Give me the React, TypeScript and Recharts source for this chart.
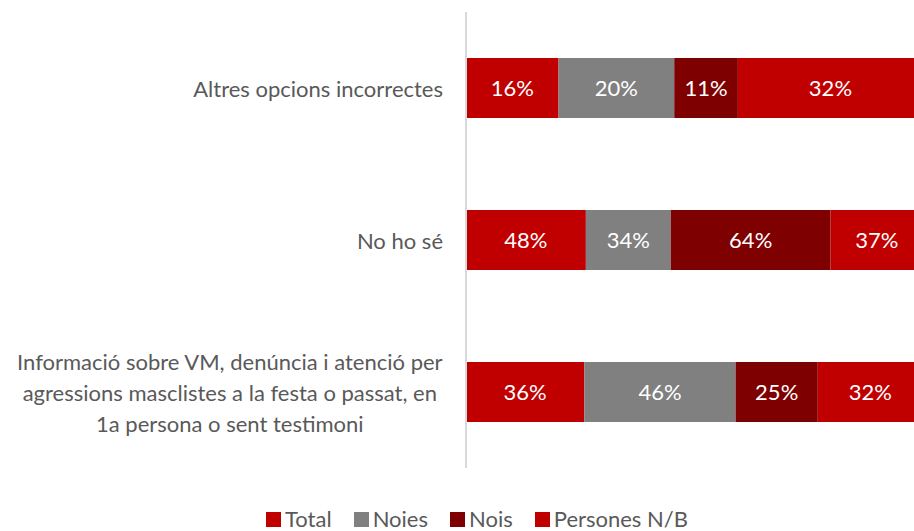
import React from 'react'
import { Bar, BarChart, LabelList, Legend, XAxis, YAxis } from 'recharts'

const categories = [
  'Altres opcions incorrectes',
  'No ho sé',
  'Informació sobre VM, denúncia i atenció per agressions masclistes a la festa o passat, en 1a persona o sent testimoni',
]
const total = [16, 48, 36]
const noies = [20, 34, 46]
const nois = [11, 64, 25]
const persones = [32, 37, 32]

const series = [
  { key: 'total', name: 'Total', color: '#C00000' },
  { key: 'noies', name: 'Noies', color: '#808080' },
  { key: 'nois', name: 'Nois', color: '#7F0000' },
  { key: 'persones', name: 'Persones N/B', color: '#C00000' },
]

const data = categories.map((label, i) => ({
  label,
  total: total[i],
  noies: noies[i],
  nois: nois[i],
  persones: persones[i],
}))

const FONT = 'Lato, "Open Sans", sans-serif'
const TEXT = '#595959'
const FONT_SIZE = 22

let ctx: CanvasRenderingContext2D | null = null
function measure(s: string): number {
  if (!ctx) ctx = document.createElement('canvas').getContext('2d')
  if (!ctx) return s.length * FONT_SIZE * 0.5
  ctx.font = `${FONT_SIZE}px Lato`
  return ctx.measureText(s).width
}

/** Greedy word wrap to a pixel width. */
function wrap(text: string, maxW: number): string[] {
  const words = text.split(' ')
  const lines: string[] = []
  let cur = ''
  for (const w of words) {
    const next = cur ? cur + ' ' + w : w
    if (cur && measure(next) > maxW) {
      lines.push(cur)
      cur = w
    } else {
      cur = next
    }
  }
  if (cur) lines.push(cur)
  return lines
}

function CategoryTick(props: any) {
  const { x, y, payload } = props
  const lines = wrap(String(payload.value), 440)
  const maxW = Math.max(...lines.map(measure))
  const right = x - 15
  const cx = right - maxW / 2
  const lh = 31
  const y0 = y - ((lines.length - 1) * lh) / 2
  return (
    <text
      x={cx}
      y={y0}
      textAnchor="middle"
      dominantBaseline="central"
      fill={TEXT}
      fontSize={FONT_SIZE}
      fontFamily={FONT}
    >
      {lines.map((l, i) => (
        <tspan key={i} x={cx} y={y0 + i * lh}>
          {l}
        </tspan>
      ))}
    </text>
  )
}

function LegendContent() {
  return (
    <div
      style={{
        display: 'flex',
        justifyContent: 'center',
        gap: 22,
        paddingLeft: 40,
        fontFamily: FONT,
        fontSize: FONT_SIZE,
        lineHeight: '22px',
        color: TEXT,
        height: 22,
        alignItems: 'center',
      }}
    >
      {series.map((s) => (
        <span key={s.key} style={{ display: 'flex', alignItems: 'center' }}>
          <span
            style={{
              width: 15,
              height: 15,
              background: s.color,
              display: 'inline-block',
              marginRight: 4,
            }}
          />
          {s.name}
        </span>
      ))}
    </div>
  )
}

export default function App() {
  return (
    <div
      style={{
        position: 'absolute',
        left: 0,
        top: 0,
        width: 914,
        height: 531,
        overflow: 'hidden',
        background: '#fff',
      }}
    >
      <BarChart
        width={924}
        height={531}
        data={data}
        layout="vertical"
        stackOffset="expand"
        barSize={60}
        margin={{ top: 12, right: 1, bottom: 41, left: 0 }}
      >
        <XAxis type="number" hide domain={[0, 1]} />
        <YAxis
          type="category"
          dataKey="label"
          width={466}
          tickLine={false}
          axisLine={{ stroke: '#d9d9d9', strokeWidth: 2 }}
          tick={<CategoryTick />}
          interval={0}
        />
        <Legend
          verticalAlign="bottom"
          content={<LegendContent />}
          wrapperStyle={{ width: 914, left: 0, top: 508 }}
        />
        {series.map((s) => (
          <Bar
            key={s.key}
            dataKey={s.key}
            name={s.name}
            stackId="a"
            fill={s.color}
            isAnimationActive={false}
          >
            <LabelList
              dataKey={s.key}
              position="center"
              fill="#ffffff"
              fontSize={FONT_SIZE}
              fontFamily={FONT}
              formatter={(v: any) => `${v}%`}
            />
          </Bar>
        ))}
      </BarChart>
    </div>
  )
}
